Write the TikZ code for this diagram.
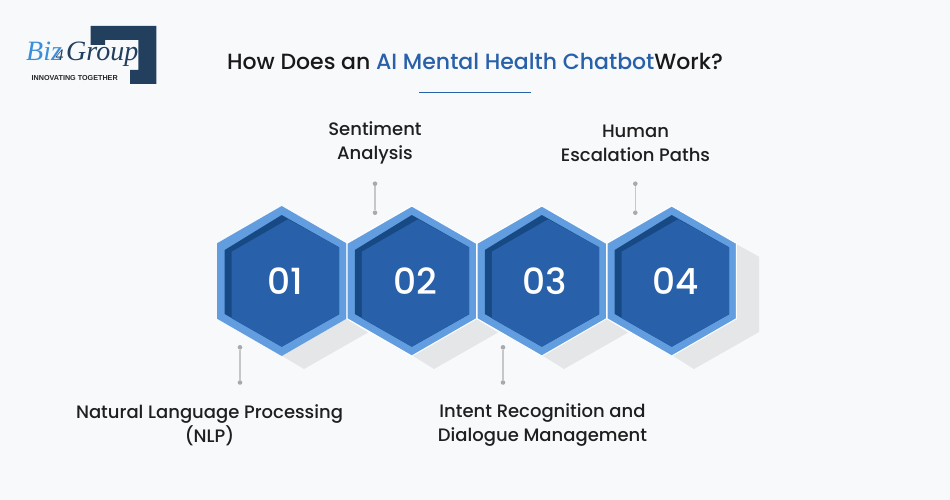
\documentclass[tikz,border=0pt]{standalone}
\usepackage{fontspec}
\setmainfont{Poppins}
\newfontfamily\popm{Poppins Medium}
\newfontfamily\serifit{Liberation Serif}
\newfontfamily\logosans{Liberation Sans}
\definecolor{bgc}{HTML}{F8F9FB}
\definecolor{lightb}{HTML}{629EDF}
\definecolor{darkb}{HTML}{174A85}
\definecolor{midb}{HTML}{2860AA}
\definecolor{shadowc}{HTML}{E5E6E8}
\definecolor{logod}{HTML}{223F5E}
\definecolor{logol}{HTML}{3A8FDC}
\definecolor{linec}{HTML}{C6C7C9}
\definecolor{dotc}{HTML}{A9AAAC}
\tikzset{
  lab/.style={align=center,inner sep=0pt,font=\popm\fontsize{18}{24}\selectfont,text=black!88},
  num/.style={inner sep=0pt,text=white,font=\popm\fontsize{36}{36}\selectfont},
  dotn/.style={circle,fill=dotc,inner sep=0pt,minimum size=4.6pt},
  conn/.style={draw=linec,line width=1.1pt},
  shadowp/.style={fill=shadowc},
}
\newcommand{\hexa}[2]{%
  \begin{scope}[shift={(#1,281)}]
    \fill[lightb,#2] (0,-75)--(64.7,-37.7)--(64.7,37.7)--(0,75)--(-64.7,37.7)--(-64.7,-37.7)--cycle;
    \fill[darkb] (0,-66)--(57.3,-33.7)--(57.3,33.3)--(0,65.7)--(-57,33)--(-57,-31)--cycle;
    \fill[midb] (6.3,-61.7)--(57.3,-33.7)--(57.3,33.3)--(0,65.7)--(-50,37.3)--(-50,-29.3)--cycle;
  \end{scope}}
\begin{document}
\begin{tikzpicture}[x=1pt,y=-1pt]
\useasboundingbox (0,0) rectangle (950,500);
\fill[bgc] (0,0) rectangle (950,500);
% logo
\fill[logod] (90.7,26)--(156.3,26)--(156.3,84)--(130,84)--(130,70)--(138.3,70)--(138.3,40)--(105,40)--(105,45)--(90.7,45)--cycle;
\node[inner sep=0pt,anchor=base west] (biz) at (26,61) {\serifit\itshape\fontsize{28}{28}\selectfont\textcolor{logol}{Biz}};
\node[inner sep=0pt,anchor=base west] (four) at (55.5,61) {\serifit\itshape\fontsize{16}{16}\selectfont\textcolor{logod}{4}};
\node[inner sep=0pt,anchor=base west] (group) at (66,61) {\serifit\itshape\fontsize{28}{28}\selectfont\textcolor{logod}{Group}};
\node[inner sep=0pt,anchor=base west] (tag) at (31.5,81) {\logosans\bfseries\fontsize{7.2}{8}\selectfont\textcolor{black!85}{INNOVATING TOGETHER}};
% title
\node[inner sep=0pt,anchor=base] (title) at (475,70) {\popm\fontsize{22}{26}\selectfont\textcolor{black!90}{How Does an }\textcolor{midb}{AI Mental Health Chatbot}\textcolor{black!90}{ Work?}};
\coordinate (ruleL) at (419,92.5);
\coordinate (ruleR) at (531,92.5);
\draw[midb,line width=1.5pt] (ruleL)--(ruleR);
% shadows
\fill[shadowp] (281.7,355.7)--(304,369)--(368,332.5)--(346,318.7)--cycle;
\fill[shadowp] (411.7,355)--(434,369)--(498,332.5)--(476,318.7)--cycle;
\fill[shadowp] (541.7,355)--(564,369)--(628,332.5)--(606,318.7)--cycle;
\fill[shadowp] (671.7,355)--(694,369)--(759,332)--(759,256.7)--(736,244)--cycle;
% hexagons
\hexa{281.7}{}
\hexa{411.8}{draw=white,line width=1pt}
\hexa{541.8}{draw=white,line width=1pt}
\hexa{671.7}{draw=white,line width=1pt}
\node[num] (n1) at (285,281) {01};
\node[num] (n2) at (415.5,281) {02};
\node[num] (n3) at (545,281) {03};
\node[num] (n4) at (675.5,281) {04};
% connectors
\node[dotn] (d1a) at (240,347.3) {};
\node[dotn] (d1b) at (240,382.5) {};
\node[dotn] (d2a) at (375,183.7) {};
\node[dotn] (d2b) at (375,212.7) {};
\node[dotn] (d3a) at (503,347.3) {};
\node[dotn] (d3b) at (503,382.5) {};
\node[dotn] (d4a) at (635.3,183.7) {};
\node[dotn] (d4b) at (635.3,212.7) {};
\draw[conn] (d1a)--(d1b);
\draw[conn] (d2a)--(d2b);
\draw[conn] (d3a)--(d3b);
\draw[conn] (d4a)--(d4b);
% labels
\node[lab] (l1) at (209.5,425) {Natural Language Processing\\(NLP)};
\node[lab] (l2) at (375,143) {Sentiment\\Analysis};
\node[lab] (l3) at (542.5,425) {Intent Recognition and\\Dialogue Management};
\node[lab] (l4) at (635.5,143) {Human\\Escalation Paths};
\end{tikzpicture}
\end{document}
